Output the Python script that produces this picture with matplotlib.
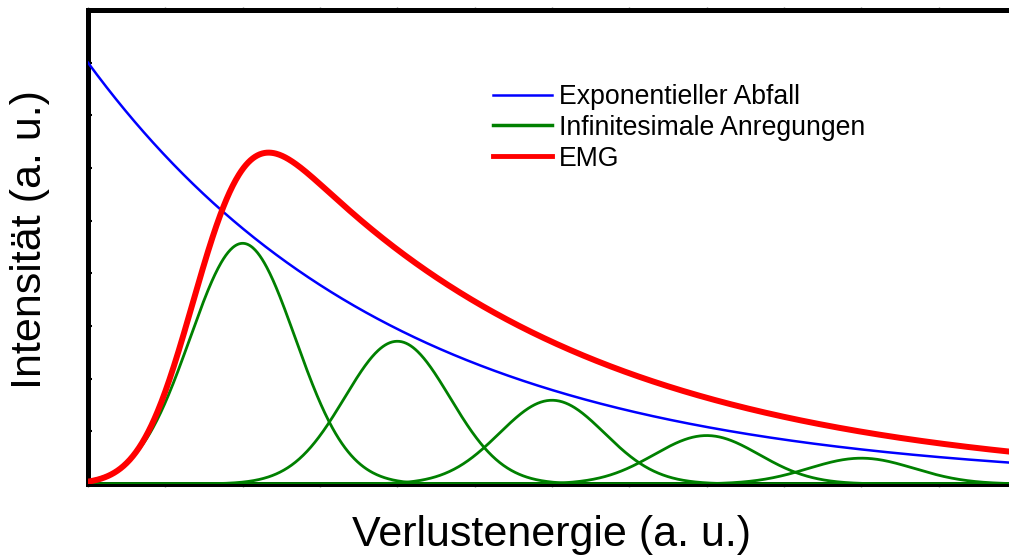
import numpy as np
import matplotlib
matplotlib.use("Agg")
import matplotlib.pyplot as plt
from math import erf, sqrt

plt.rcParams['font.family'] = ['Liberation Sans', 'DejaVu Sans']

# Exponential decay (background of energy losses)
decay_amplitude = 8.0
decay_length = 4.0

# Individual excitations: Gaussian peaks
peak_centers = [2.0, 4.0, 6.0, 8.0, 10.0]
peak_heights = [4.57, 2.71, 1.59, 0.92, 0.49]
peak_width = 0.68

# Exponentially modified Gaussian (EMG)
emg_amplitude = 8.4
emg_mu = 1.42
emg_sigma = 0.56
emg_tau = 4.0

x_limits = (0.0, 12.0)
y_limits = (0.0, 9.0)

labels = ["Exponentieller Abfall", "Infinitesimale Anregungen", "EMG"]
x_label = "Verlustenergie (a. u.)"
y_label = "Intensität (a. u.)"

x = np.linspace(x_limits[0], x_limits[1], 1200)

decay = decay_amplitude * np.exp(-x / decay_length)

_erf = np.vectorize(erf)
def norm_cdf(z):
    return 0.5 * (1.0 + _erf(z / sqrt(2.0)))

emg = (emg_amplitude
       * np.exp((emg_mu - x) / emg_tau + emg_sigma**2 / (2 * emg_tau**2))
       * norm_cdf((x - emg_mu) / emg_sigma - emg_sigma / emg_tau))

fig = plt.figure(figsize=(10.09, 5.60), dpi=100)
ax = fig.add_axes([88 / 1009, 76 / 560, 928 / 1009, 474 / 560])

blue_line, = ax.plot(x, decay, color="#0000ff", lw=1.8, zorder=3)
green_line = None
for c, h in zip(peak_centers, peak_heights):
    g = h * np.exp(-(x - c) ** 2 / (2 * peak_width ** 2))
    green_line, = ax.plot(x, g, color="#008000", lw=2.0, zorder=3)
red_line, = ax.plot(x, emg, color="#ff0000", lw=4.3, zorder=4)

ax.set_xlim(*x_limits)
ax.set_ylim(*y_limits)

ax.set_xticks(np.arange(0, 13, 1))
ax.set_yticks(np.arange(0, 10, 1))
ax.tick_params(axis="x", which="both", direction="out", length=2, width=1,
               color="#888888", top=True, bottom=True,
               labelbottom=False, labeltop=False)
ax.tick_params(axis="y", which="both", direction="in", length=3, width=1.5,
               color="black", left=True, right=False, labelleft=False)

for side in ["left", "top", "bottom", "right"]:
    ax.spines[side].set_linewidth(3.6)
    ax.spines[side].set_color("black")

ax.set_xlabel(x_label, fontsize=31, va="center")
ax.xaxis.set_label_coords(0.5, (484 - 535) / 474)
ax.set_ylabel(y_label, fontsize=31, va="center")
ax.yaxis.set_label_coords((30 - 88) / 928, (484 - 240) / 474)

leg = fig.legend([blue_line, green_line, red_line], labels,
                 loc="upper left", bbox_to_anchor=(493 / 1009, 1 - 84 / 560),
                 frameon=False, fontsize=19.2, handlelength=2.2,
                 handletextpad=0.27, labelspacing=0.18, borderpad=0,
                 borderaxespad=0)
leg_lines = leg.get_lines()
leg_lines[0].set_linewidth(1.8)
leg_lines[1].set_linewidth(2.5)
leg_lines[2].set_linewidth(3.5)

fig.savefig("out.png", dpi=100)
